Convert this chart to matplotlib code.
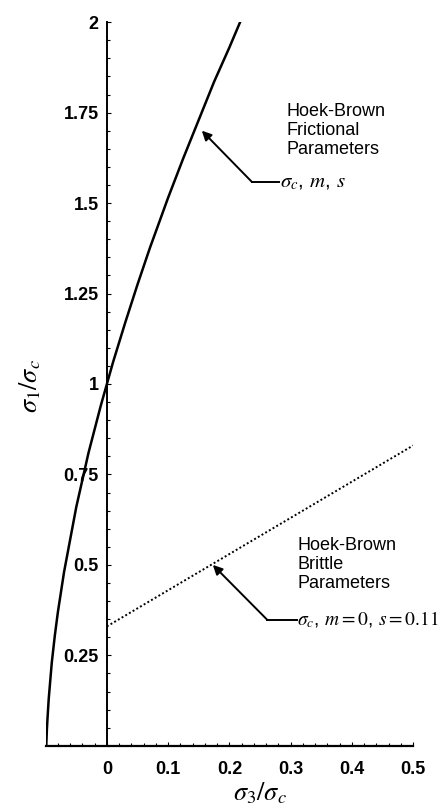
#!/usr/bin/env python3

import matplotlib
matplotlib.use("Agg")
import matplotlib.pyplot as plt
from matplotlib.ticker import MultipleLocator

# Hoek-Brown envelope with frictional parameters
FRICTIONAL_S3 = [-0.099, -0.098, -0.097, -0.095, -0.09, -0.085, -0.08, -0.07, -0.06,
                 -0.05, -0.04, -0.03, -0.02, -0.01, 0.0, 0.01, 0.02, 0.03, 0.05,
                 0.07, 0.1, 0.125, 0.15, 0.175, 0.2, 0.225]
FRICTIONAL_S1 = [0.0, 0.045, 0.075, 0.13, 0.23, 0.305, 0.37, 0.48, 0.57,
                 0.66, 0.735, 0.81, 0.875, 0.94, 1.0, 1.06, 1.115, 1.17, 1.275,
                 1.375, 1.515, 1.625, 1.73, 1.835, 1.93, 2.03]

# brittle parameters (m = 0, s = 0.11)
BRITTLE_S3 = [0.0, 0.5]
BRITTLE_S1 = [0.33, 0.83]

X_TICKS = [0, 0.1, 0.2, 0.3, 0.4, 0.5]
X_TICK_LABELS = ["0", "0.1", "0.2", "0.3", "0.4", "0.5"]
Y_TICKS = [0.25, 0.5, 0.75, 1.0, 1.25, 1.5, 1.75, 2.0]
Y_TICK_LABELS = ["0.25", "0.5", "0.75", "1", "1.25", "1.5", "1.75", "2"]

SANS = ["Liberation Sans", "DejaVu Sans"]


def add_callout(ax, tip, tail, bar_end, label, label_xy, params, params_x, params_size):
    ax.annotate("", xy=tip, xytext=tail,
                arrowprops=dict(arrowstyle="-|>", color="black", lw=1.4,
                                mutation_scale=14, shrinkA=0, shrinkB=0))
    ax.plot([tail[0], bar_end], [tail[1], tail[1]], color="black", linewidth=1.4)
    ax.text(label_xy[0], label_xy[1], label, fontsize=13, ha="left", va="center",
            linespacing=1.15)
    ax.text(params_x, tail[1], params, fontsize=params_size, ha="left", va="center",
            clip_on=False)


def main():
    plt.rcParams["mathtext.fontset"] = "stix"
    plt.rcParams["font.family"] = SANS

    fig = plt.figure(figsize=(4.39, 8.05), dpi=100)
    ax = fig.add_axes([0.104, 0.0735, 0.837, 0.899])

    ax.plot(FRICTIONAL_S3, FRICTIONAL_S1, color="black", linewidth=1.8)
    ax.plot(BRITTLE_S3, BRITTLE_S1, color="black", linewidth=1.4,
            linestyle=(0, (1, 1.2)))

    ax.set_xlim(-0.1, 0.5)
    ax.set_ylim(0, 2)

    for side in ("top", "right"):
        ax.spines[side].set_visible(False)
    ax.spines["left"].set_position(("data", 0))
    ax.spines["left"].set_linewidth(1.4)
    ax.spines["bottom"].set_linewidth(1.6)

    ax.set_xticks(X_TICKS)
    ax.set_xticklabels(X_TICK_LABELS, fontsize=13, fontweight="bold")
    ax.set_yticks(Y_TICKS)
    ax.set_yticklabels(Y_TICK_LABELS, fontsize=13, fontweight="bold")
    ax.xaxis.set_minor_locator(MultipleLocator(0.02))
    ax.yaxis.set_minor_locator(MultipleLocator(0.05))
    ax.tick_params(axis="x", which="major", direction="in", length=3, pad=11)
    ax.tick_params(axis="y", which="major", direction="in", length=3, pad=6)
    ax.tick_params(which="minor", direction="in", length=2, width=0.8)

    ax.text(0.25, -0.13, r"$\sigma_3/\sigma_c$", fontsize=19,
            ha="center", va="center", clip_on=False)
    fig.text(0.068, 0.52, r"$\sigma_1/\sigma_c$", fontsize=19, rotation=90,
             ha="center", va="center")

    add_callout(ax, (0.155, 1.70), (0.237, 1.558), 0.281,
                "Hoek-Brown\nFrictional\nParameters", (0.293, 1.70),
                r"$\sigma_c$, $m$, $s$", 0.283, 15)
    add_callout(ax, (0.173, 0.50), (0.262, 0.348), 0.31,
                "Hoek-Brown\nBrittle\nParameters", (0.312, 0.50),
                r"$\sigma_c$, $m=0$, $s=0.11$", 0.311, 14)

    fig.savefig("out.png", dpi=100)
    plt.close(fig)


if __name__ == "__main__":
    main()
